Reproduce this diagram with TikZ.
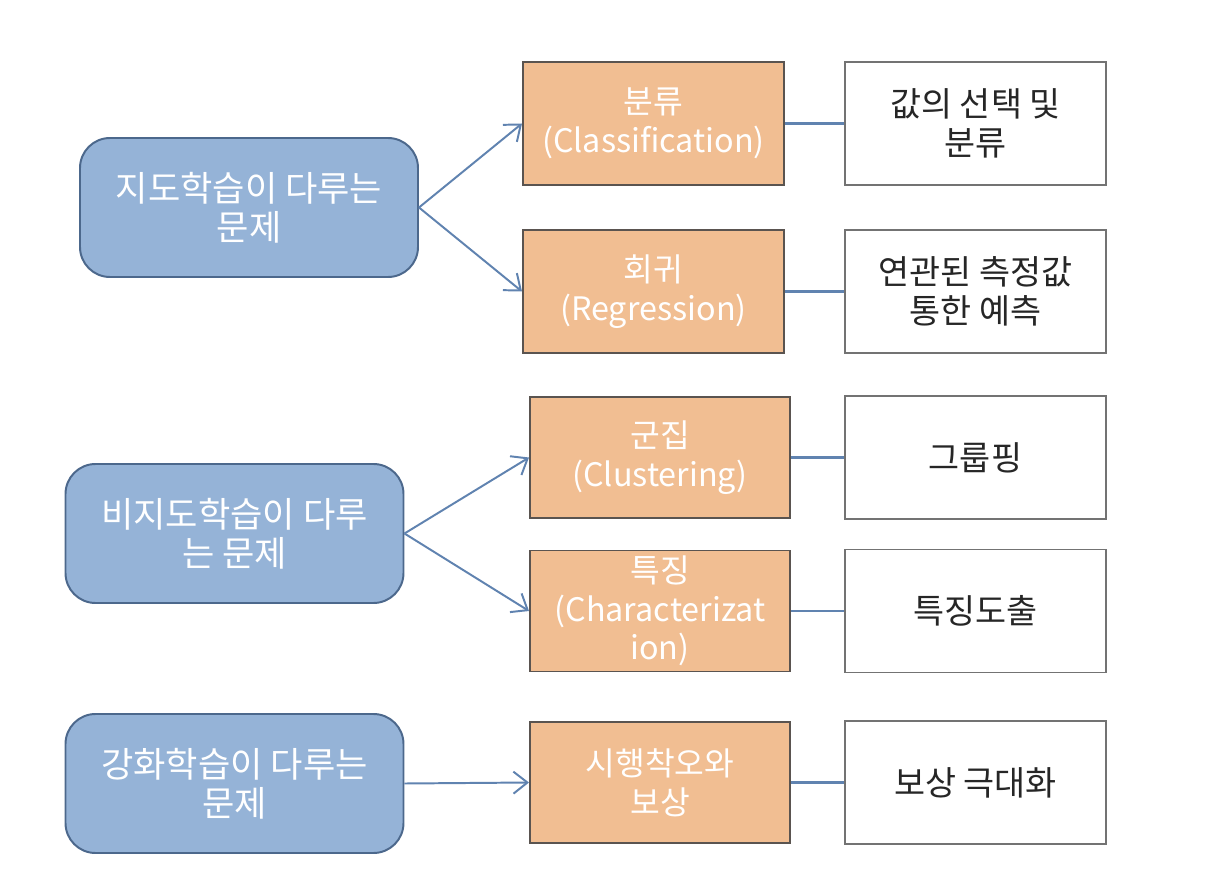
\documentclass[tikz,border=0pt]{standalone}
\usepackage{fontspec}
\setmainfont{Noto Sans CJK KR}
\usetikzlibrary{arrows.meta}
\definecolor{probfill}{RGB}{149,179,215}
\definecolor{probline}{RGB}{76,104,140}
\definecolor{methfill}{RGB}{241,190,146}
\definecolor{methline}{RGB}{90,84,80}
\definecolor{arrline}{RGB}{96,131,176}
\begin{document}
\begin{tikzpicture}[
  prob/.style={rectangle, draw=probline, line width=1.4pt, rounded corners=0.75cm,
    fill=probfill, align=center, text=white, minimum width=8.45cm, minimum height=3.475cm,
    font=\fontsize{25}{28}\selectfont},
  meth/.style={rectangle, draw=methline, line width=1.4pt, fill=methfill, align=center,
    text=white, minimum width=6.525cm, minimum height=3.075cm, inner sep=1pt,
    font=\fontsize{23}{27.5}\selectfont},
  res/.style={rectangle, draw=black!55, line width=1.4pt, fill=white, align=center,
    text=black!85, minimum width=6.525cm, minimum height=3.075cm,
    font=\fontsize{24}{28}\selectfont},
  a/.style={line width=1.4pt, draw=arrline, -{Straight Barb[length=0.35cm, width=0.55cm]}},
  ln/.style={line width=1.5pt, draw=arrline}
]
\useasboundingbox (0,0) rectangle (30.6,-22.35);
\node[prob] (p1) at (6.225,-5.1875) {지도학습이 다루는\\문제};
\node[prob] (p2) at (5.8625,-13.3375) {비지도학습이 다루\\는 문제};
\node[prob] (p3) at (5.8625,-19.5875) {강화학습이 다루는\\문제};
\node[meth] (m1) at (16.3375,-3.0875) {분류\\(Classification)};
\node[meth] (m2) at (16.3375,-7.2875) {회귀\\(Regression)};
\node[meth, minimum width=6.5cm, minimum height=3.025cm] (m3) at (16.5,-11.4375) {군집\\(Clustering)};
\node[meth, minimum width=6.5cm, minimum height=3.025cm] (m4) at (16.5,-15.275) {특징\\(Characterizat\\ion)};
\node[meth, minimum width=6.5cm, minimum height=3.025cm] (m5) at (16.5,-19.5625) {시행착오와\\보상};
\node[res] (r1) at (24.3875,-3.0875) {값의 선택 및\\분류};
\node[res] (r2) at (24.3875,-7.2875) {연관된 측정값\\통한 예측};
\node[res] (r3) at (24.3875,-11.4375) {그룹핑};
\node[res] (r4) at (24.3875,-15.275) {특징도출};
\node[res] (r5) at (24.3875,-19.5625) {보상 극대화};
\draw[a] (p1.east) -- (m1.west);
\draw[a] (p1.east) -- (m2.west);
\draw[a] (p2.east) -- (m3.west);
\draw[a] (p2.east) -- (m4.west);
\draw[a] (p3.east) -- (m5.west);
\draw[ln] (m1) -- (r1);
\draw[ln] (m2) -- (r2);
\draw[ln] (m3) -- (r3);
\draw[ln] (m4) -- (r4);
\draw[ln] (m5) -- (r5);
\end{tikzpicture}
\end{document}
